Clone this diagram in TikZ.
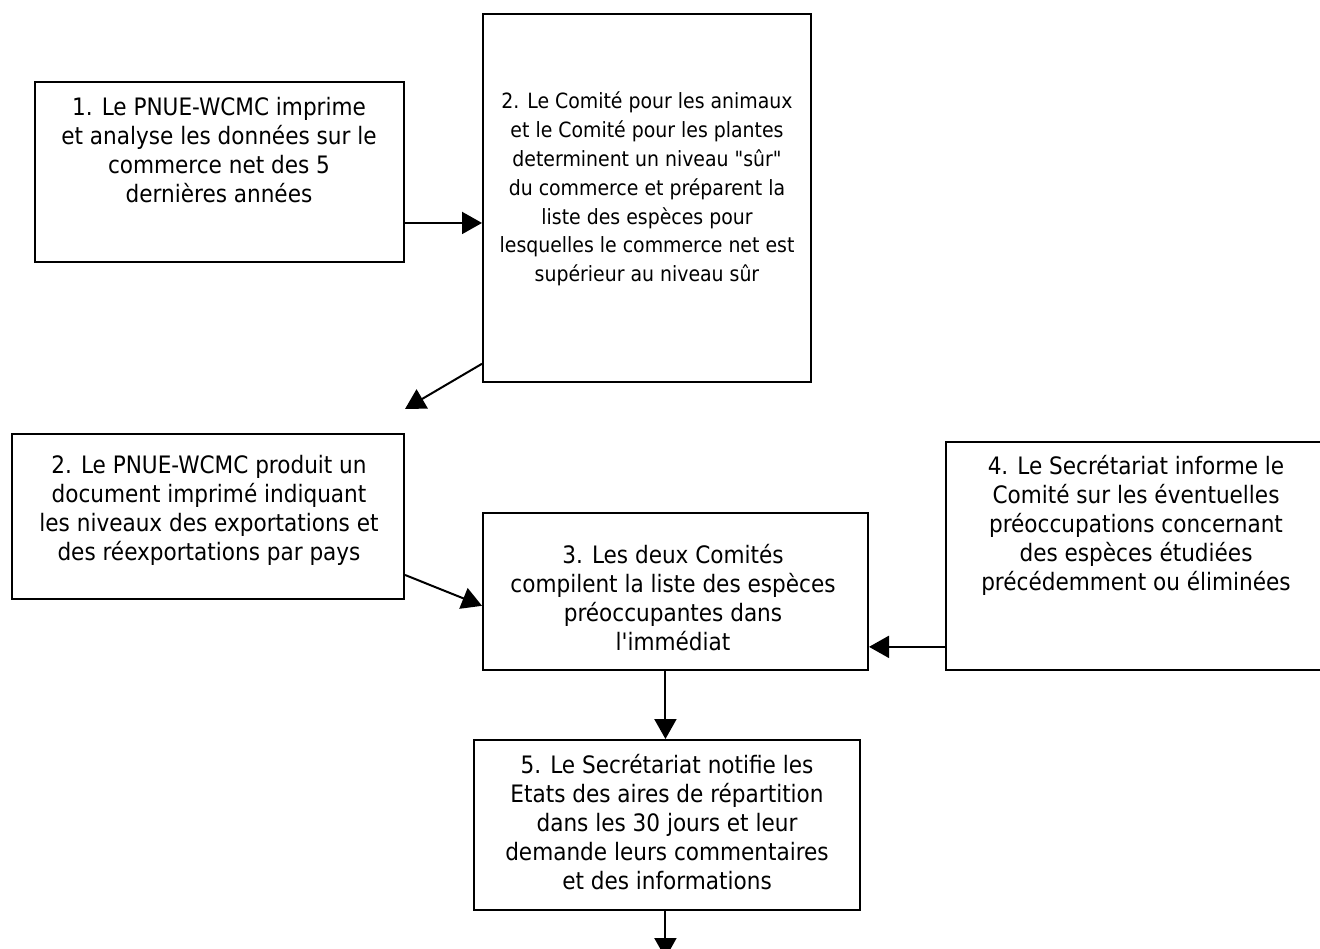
\documentclass[tikz,border=0pt]{standalone}
\usepackage{fontspec}
\setmainfont{DejaVu Sans Condensed}[Ligatures=TeXOff]
\usetikzlibrary{calc,fit,arrows.meta}
\tikzset{
  box/.style={draw, line width=1pt, inner sep=0pt},
  txt/.style={align=center, inner sep=0pt, font=\fontsize{12}{14.5}\selectfont},
  smalltxt/.style={txt, font=\fontsize{10.5}{14.4}\selectfont},
  arr/.style={line width=1pt, -{Triangle[length=10pt,width=11pt]}}
}
\begin{document}
\begin{tikzpicture}[x=0.5pt, y=-0.5pt]
\useasboundingbox (0,0) rectangle (1320,948);
% the boxes
\node[box, fit={(35,82) (404,262)}] (imprime) {};
\node[box, fit={(483,14) (811,382)}] (comite) {};
\node[box, fit={(12,434) (404,599)}] (produit) {};
\node[box, fit={(483,513) (868,670)}] (listes) {};
\node[box, fit={(946,442) (1324,670)}] (informe) {};
\node[box, fit={(474,740) (860,910)}] (notifie) {};
% their texts
\node[txt] (imprimetxt) at (219,150) {1. Le PNUE-WCMC imprime\\et analyse les données sur le\\commerce net des 5\\dernières années};
\node[smalltxt] (comitetxt) at (647,189) {2. Le Comité pour les animaux\\et le Comité pour les plantes\\determinent un niveau "sûr"\\du commerce et préparent la\\liste des espèces pour\\lesquelles le commerce net est\\supérieur au niveau sûr};
\node[txt] (produittxt) at (209,510) {2. Le PNUE-WCMC produit un\\document imprimé indiquant\\les niveaux des exportations et\\des réexportations par pays};
\node[txt] (listestxt) at (673,598) {3. Les deux Comités\\compilent la liste des espèces\\préoccupantes dans\\l'immédiat};
\node[txt] (informetxt) at (1136,525) {4. Le Secrétariat informe le\\Comité sur les éventuelles\\préoccupations concernant\\des espèces étudiées\\précédemment ou éliminées};
\node[txt] (notifietxt) at (667,822) {5. Le Secrétariat notifie les\\Etats des aires de répartition\\dans les 30 jours et leur\\demande leurs commentaires\\et des informations};
% arrows
\coordinate (a1s) at ($(imprime.north east)!0.78!(imprime.south east)$);
\draw[arr] (a1s) -- (a1s -| comite.west);
\coordinate (a2s) at ($(comite.north west)!0.948!(comite.south west)$);
\coordinate (a2e) at ([yshift=12pt]produit.north east);
\draw[arr] (a2s) -- (a2e);
\coordinate (a3s) at ($(produit.north east)!0.85!(produit.south east)$);
\coordinate (a3e) at ($(listes.north west)!0.59!(listes.south west)$);
\draw[arr] (a3s) -- (a3e);
\coordinate (a4s) at ($(informe.north west)!0.895!(informe.south west)$);
\draw[arr] (a4s) -- (a4s -| listes.east);
\coordinate (a5s) at ($(listes.south west)!0.474!(listes.south east)$);
\draw[arr] (a5s) -- (a5s |- notifie.north);
\coordinate (a6s) at (a5s |- notifie.south);
\coordinate (a6e) at ([yshift=-23.5pt]a6s);
\draw[arr] (a6s) -- (a6e);
\end{tikzpicture}
\end{document}
